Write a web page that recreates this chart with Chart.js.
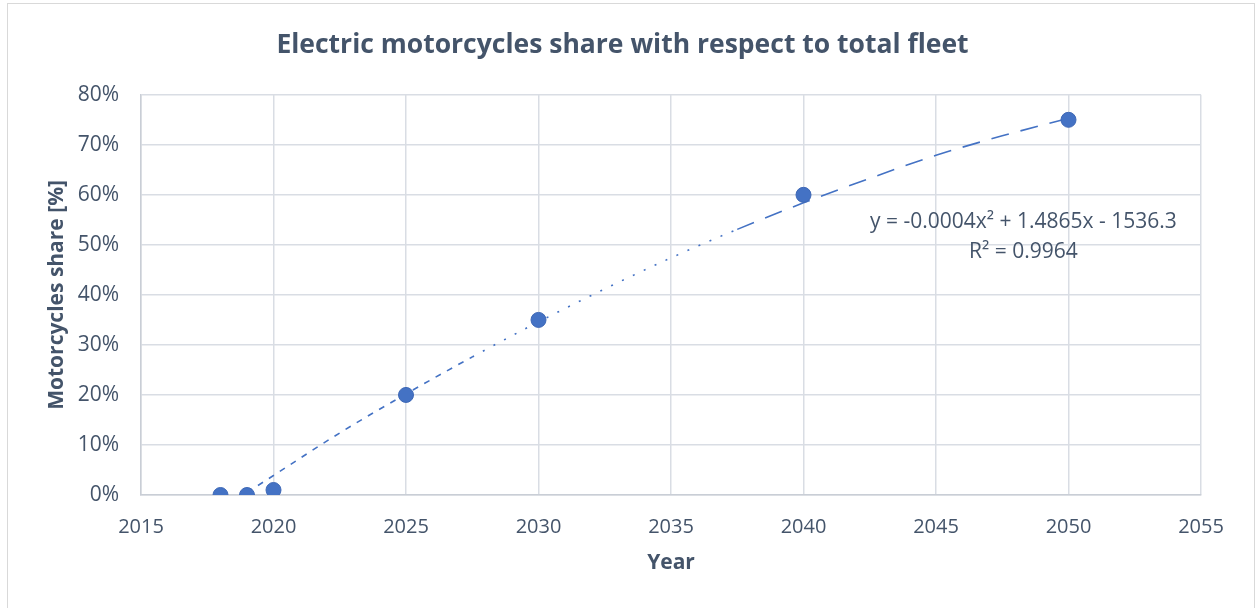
<!DOCTYPE html>
<html>
<head>
<meta charset="utf-8">
<script src="https://cdn.jsdelivr.net/npm/chart.js@4"></script>
<style>
  html, body { margin: 0; padding: 0; background: #fff; }
  #wrap { width: 1257px; height: 608px; }
</style>
</head>
<body>
<div id="wrap"><canvas id="myChart" width="1257" height="608"></canvas></div>
<script>
// Data
const years = [2018, 2019, 2020, 2025, 2030, 2040, 2050];
const sharePct = [0, 0, 1, 20, 35, 60, 75];

// Polynomial trendline as drawn
const trendYears = [2019, 2020, 2022.5, 2025, 2027.5, 2030, 2032.5, 2035, 2037.5, 2040, 2042.5, 2045, 2047.5, 2050];
const trendPct = [0.5, 3.9, 12.4, 20.2, 27.6, 34.6, 41.2, 47.4, 53.1, 58.4, 63.3, 67.9, 71.8, 75.3];

const equationLines = ['y = -0.0004x\u00b2 + 1.4865x - 1536.3', 'R\u00b2 = 0.9964'];

const textColor = '#44546a';
const gridColor = '#d9dde4';
const fontFamily = '"Open Sans", sans-serif';

// outer frame of the chart
const framePlugin = {
  id: 'frame',
  beforeDraw(chart) {
    const c = chart.ctx;
    c.save();
    c.fillStyle = '#fff';
    c.fillRect(0, 0, chart.width, chart.height);
    c.strokeStyle = '#d9d9d9';
    c.lineWidth = 1;
    c.strokeRect(7.5, 3.5, 1247, 620);
    c.restore();
  }
};

// trendline equation label
const equationPlugin = {
  id: 'equation',
  afterDraw(chart) {
    const c = chart.ctx;
    const x = chart.scales.x.getPixelForValue(2048.3);
    const y = chart.scales.y.getPixelForValue(54.6);
    c.save();
    c.fillStyle = textColor;
    c.font = '21px ' + fontFamily;
    c.textAlign = 'center';
    c.textBaseline = 'middle';
    c.fillText(equationLines[0], x, y);
    c.fillText(equationLines[1], x, y + 30);
    c.restore();
  }
};

const ctx = document.getElementById('myChart').getContext('2d');

const myChart = new Chart(ctx, {
  type: 'scatter',
  data: {
    datasets: [{
      label: 'Share',
      data: years.map((yr, i) => ({ x: yr, y: sharePct[i] })),
      backgroundColor: '#4472c4',
      borderColor: '#3e68b6',
      borderWidth: 1,
      pointRadius: 7.5,
      order: 1
    }, {
      label: 'Trend',
      type: 'line',
      data: trendYears.map((yr, i) => ({ x: yr, y: trendPct[i] })),
      borderColor: '#4472c4',
      borderWidth: 1.6,
      pointRadius: 0,
      fill: false,
      cubicInterpolationMode: 'monotone',
      segment: {
        borderDash: c => {
          const x0 = c.p0.parsed.x;
          if (x0 < 2027.5) return [6, 7];
          if (x0 < 2037.5) return [2, 10];
          return [18, 12];
        }
      },
      order: 2
    }]
  },
  options: {
    responsive: false,
    animation: false,
    layout: { padding: { left: 44, right: 56, top: 0, bottom: 32 } },
    plugins: {
      legend: { display: false },
      tooltip: { enabled: false },
      title: {
        display: true,
        text: 'Electric motorcycles share with respect to total fleet',
        color: textColor,
        font: { family: fontFamily, size: 26.5, weight: 'bold', lineHeight: 1.2 },
        padding: { top: 30, bottom: 33 }
      }
    },
    scales: {
      x: {
        type: 'linear',
        min: 2015,
        max: 2055,
        ticks: {
          stepSize: 5,
          color: textColor,
          font: { family: fontFamily, size: 20 },
          padding: 20,
          callback: v => String(v)
        },
        grid: { color: gridColor, lineWidth: 1.5, drawTicks: false },
        border: { color: '#c9ced6', width: 1.5 },
        title: {
          display: true,
          text: 'Year',
          color: textColor,
          font: { family: fontFamily, size: 21, weight: 'bold' },
          padding: 0
        },
        afterFit: s => { s.height = 81; }
      },
      y: {
        min: 0,
        max: 80,
        ticks: {
          stepSize: 10,
          color: textColor,
          font: { family: fontFamily, size: 21 },
          padding: 22,
          callback: v => v + '%'
        },
        grid: { color: gridColor, lineWidth: 1.5, drawTicks: false },
        border: { color: '#c9ced6', width: 1.5 },
        title: {
          display: true,
          text: 'Motorcycles share [%]',
          color: textColor,
          font: { family: fontFamily, size: 21, weight: 'bold' },
          padding: 0
        },
        afterFit: s => { s.width = 97; }
      }
    }
  },
  plugins: [framePlugin, equationPlugin]
});
</script>
</body>
</html>
